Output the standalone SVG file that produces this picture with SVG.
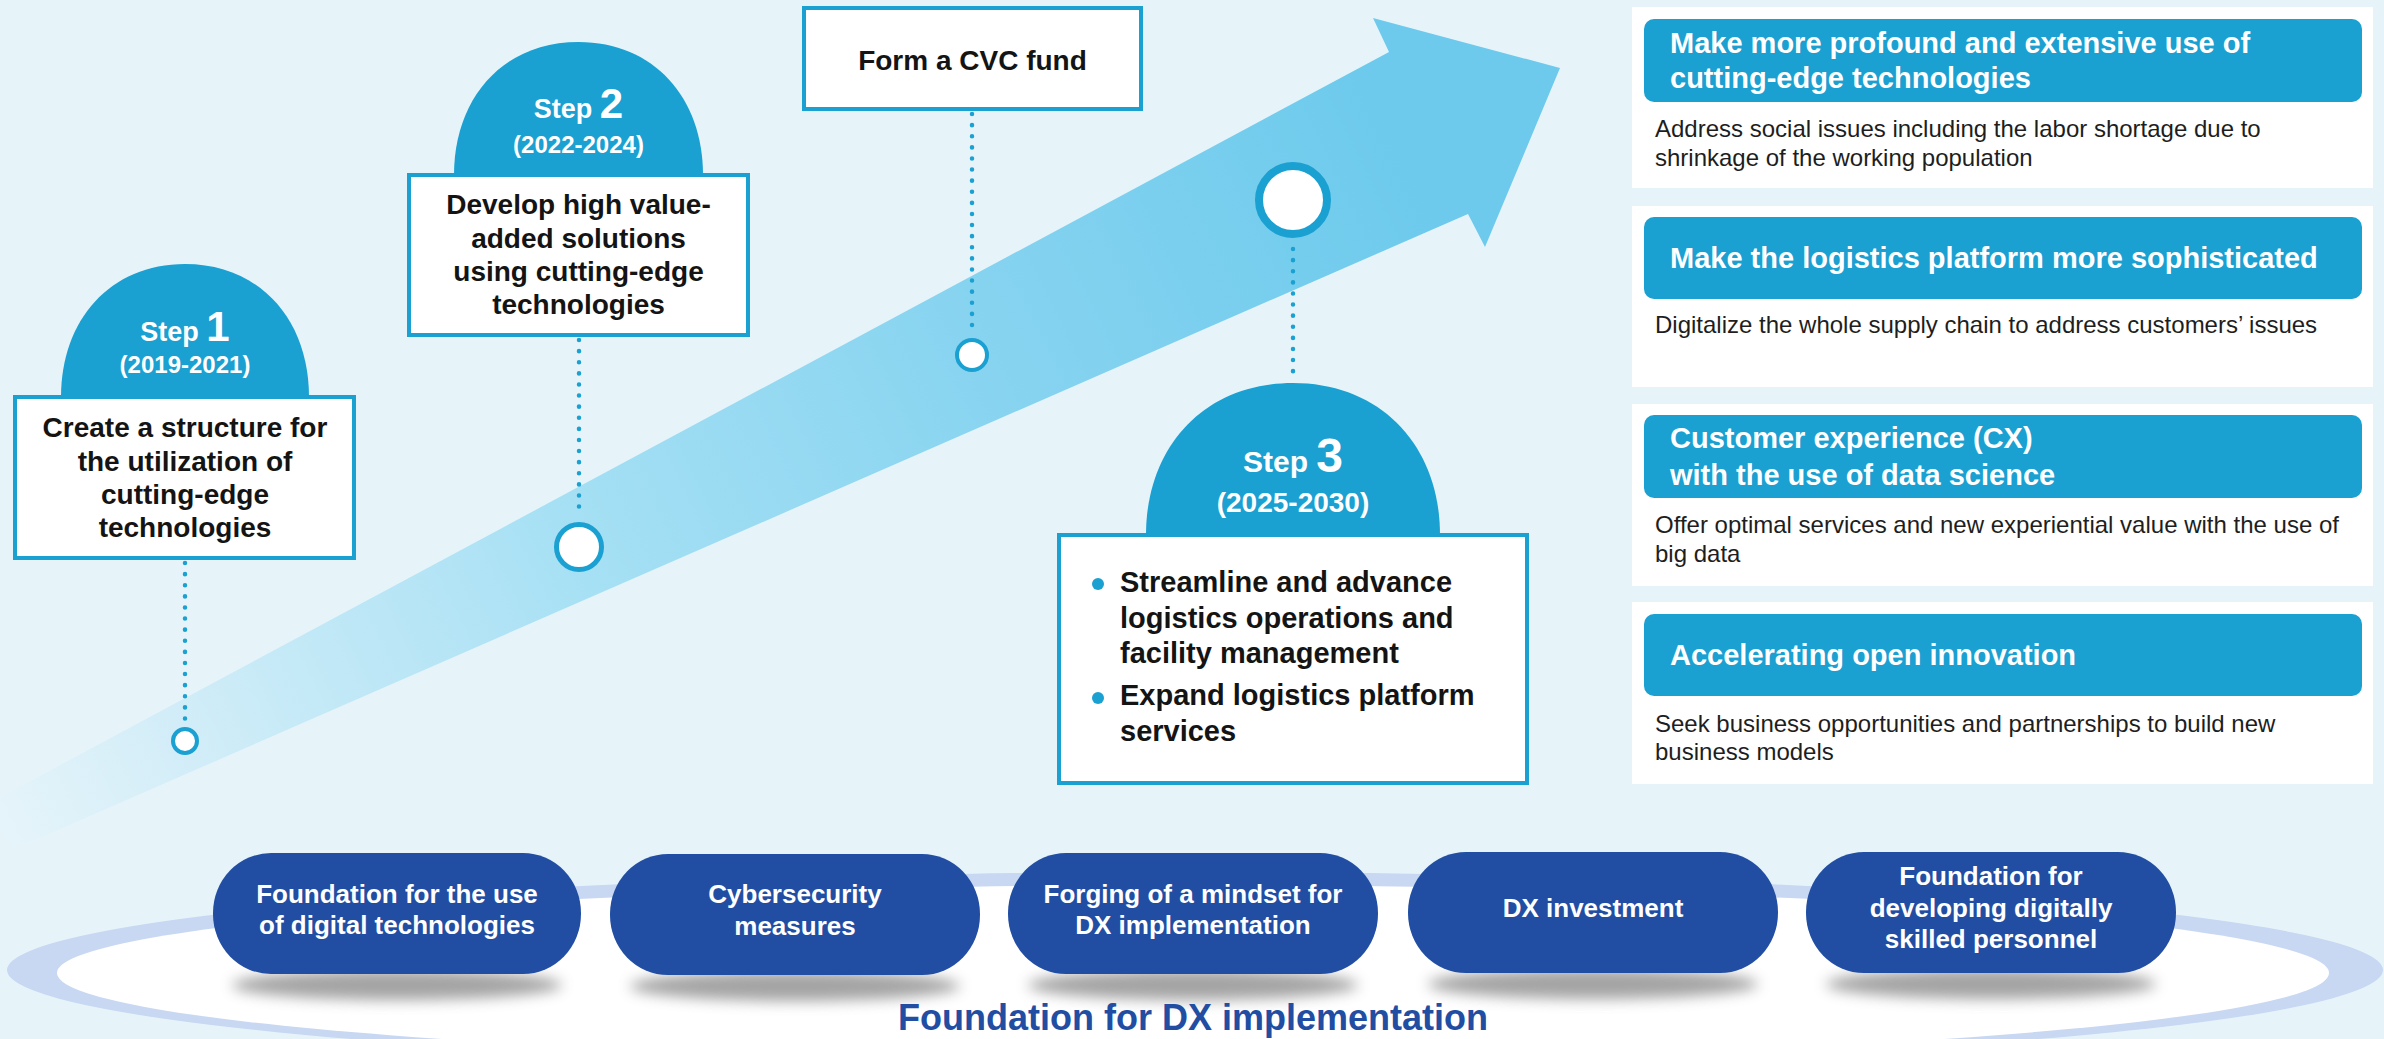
<svg xmlns="http://www.w3.org/2000/svg" width="2384" height="1039" viewBox="0 0 2384 1039">
  <defs>
    <linearGradient id="arrowFill" gradientUnits="userSpaceOnUse" x1="0" y1="830" x2="1400" y2="140">
      <stop offset="0" stop-color="#E6F4FA"/>
      <stop offset="0.13" stop-color="#D2EDF8"/>
      <stop offset="0.41" stop-color="#A6E0F4"/>
      <stop offset="0.69" stop-color="#88D4F0"/>
      <stop offset="1" stop-color="#6DCAEC"/>
    </linearGradient>
    <filter id="soft" x="-20%" y="-200%" width="140%" height="500%">
      <feGaussianBlur stdDeviation="7"/>
    </filter>
    <style>
      .box { fill: #FFFFFF; stroke: #1BA0D2; stroke-width: 4; }
      .dome { fill: #1BA0D2; }
      .dots { fill: none; stroke: #1BA0D2; stroke-width: 4.5; stroke-linecap: round; stroke-dasharray: 0.1 11; }
      .stepLbl { font-family: "Liberation Sans", Arial, sans-serif; font-weight: bold; fill: #FFFFFF; text-anchor: middle; }
      .body { font-family: "Liberation Sans", Arial, sans-serif; font-weight: bold; fill: #141414; font-size: 28px; text-anchor: middle; }
      .bullet { font-family: "Liberation Sans", Arial, sans-serif; font-weight: bold; fill: #141414; font-size: 29px; }
      .panel { fill: #FFFFFF; }
      .head { fill: #1BA0D2; }
      .headTxt { font-family: "Liberation Sans", Arial, sans-serif; font-weight: bold; fill: #FFFFFF; font-size: 29px; }
      .panelTxt { font-family: "Liberation Sans", Arial, sans-serif; fill: #1E1E1E; font-size: 24px; }
      .pill { fill: #214EA3; }
      .pillTxt { font-family: "Liberation Sans", Arial, sans-serif; font-weight: bold; fill: #FFFFFF; font-size: 26px; text-anchor: middle; }
      .shadow { fill: #858585; opacity: 0.75; filter: url(#soft); }
    </style>
  </defs>

  <!-- background -->
  <rect x="0" y="0" width="2384" height="1039" fill="#E6F4FA"/>

  <!-- rising arrow -->
  <g id="growth-arrow">
    <path d="M-20,808 L1389,52 L1373,18 L1560,68 L1485,247 L1468,214 L-20,864 Z" fill="url(#arrowFill)"/>
  </g>

  <!-- foundation ring -->
  <g id="foundation-ring">
    <ellipse cx="1195" cy="970" rx="1188" ry="98" fill="#C8D7F2"/>
    <ellipse cx="1193" cy="973" rx="1136" ry="88" fill="#FFFFFF"/>
  </g>

  <!-- connectors -->
  <g id="connectors">
    <line class="dots" x1="185" y1="563" x2="185" y2="723"/>
    <line class="dots" x1="579" y1="340" x2="579" y2="510"/>
    <line class="dots" x1="972" y1="114" x2="972" y2="334"/>
    <line class="dots" x1="1293" y1="249" x2="1293" y2="372"/>
  </g>

  <!-- milestones on the arrow -->
  <g id="milestone-1"><circle cx="185" cy="741" r="12" fill="#FFFFFF" stroke="#1BA0D2" stroke-width="4"/></g>
  <g id="milestone-2"><circle cx="579" cy="547" r="22.5" fill="#FFFFFF" stroke="#1BA0D2" stroke-width="5"/></g>
  <g id="milestone-cvc"><circle cx="972" cy="355" r="15" fill="#FFFFFF" stroke="#1BA0D2" stroke-width="4"/></g>
  <g id="milestone-3"><circle cx="1293" cy="200" r="34" fill="#FFFFFF" stroke="#1BA0D2" stroke-width="8"/></g>

  <!-- Step 1 -->
  <g id="step-1">
    <path class="dome" d="M61,397 C61,320 110,264 185,264 C260,264 309,320 309,397 Z"/>
    <text class="stepLbl" x="185" y="341"><tspan font-size="27">Step </tspan><tspan font-size="42">1</tspan></text>
    <text class="stepLbl" x="185" y="373" font-size="24">(2019-2021)</text>
    <rect class="box" x="15" y="397" width="339" height="161"/>
    <text class="body" x="185" y="437">Create a structure for</text>
    <text class="body" x="185" y="471">the utilization of</text>
    <text class="body" x="185" y="504">cutting-edge</text>
    <text class="body" x="185" y="537">technologies</text>
  </g>

  <!-- Step 2 -->
  <g id="step-2">
    <path class="dome" d="M454,175 C454,98 503,42 578.5,42 C654,42 703,98 703,175 Z"/>
    <text class="stepLbl" x="578.5" y="118"><tspan font-size="27">Step </tspan><tspan font-size="42">2</tspan></text>
    <text class="stepLbl" x="578.5" y="153" font-size="24">(2022-2024)</text>
    <rect class="box" x="409" y="175" width="339" height="160"/>
    <text class="body" x="578.5" y="214">Develop high value-</text>
    <text class="body" x="578.5" y="248">added solutions</text>
    <text class="body" x="578.5" y="281">using cutting-edge</text>
    <text class="body" x="578.5" y="314">technologies</text>
  </g>

  <!-- CVC fund -->
  <g id="cvc-fund">
    <rect class="box" x="804" y="8" width="337" height="101"/>
    <text class="body" x="972.5" y="70">Form a CVC fund</text>
  </g>

  <!-- Step 3 -->
  <g id="step-3">
    <path class="dome" d="M1146,535 C1146,447 1204,383 1293,383 C1382,383 1440,447 1440,535 Z"/>
    <text class="stepLbl" x="1293" y="472"><tspan font-size="30">Step </tspan><tspan font-size="48">3</tspan></text>
    <text class="stepLbl" x="1293" y="512" font-size="28">(2025-2030)</text>
    <rect class="box" x="1059" y="535" width="468" height="248"/>
    <circle cx="1098" cy="584" r="6" fill="#1BA0D2"/>
    <circle cx="1098" cy="698" r="6" fill="#1BA0D2"/>
    <text class="bullet" x="1120" y="592">Streamline and advance</text>
    <text class="bullet" x="1120" y="628">logistics operations and</text>
    <text class="bullet" x="1120" y="663">facility management</text>
    <text class="bullet" x="1120" y="705">Expand logistics platform</text>
    <text class="bullet" x="1120" y="741">services</text>
  </g>

  <!-- right-hand goal panels -->
  <g id="goal-technologies">
    <rect class="panel" x="1632" y="7" width="741" height="181"/>
    <rect class="head" x="1644" y="19" width="718" height="83" rx="10"/>
    <text class="headTxt" x="1670" y="53">Make more profound and extensive use of</text>
    <text class="headTxt" x="1670" y="88">cutting-edge technologies</text>
    <text class="panelTxt" x="1655" y="137">Address social issues including the labor shortage due to</text>
    <text class="panelTxt" x="1655" y="166">shrinkage of the working population</text>
  </g>
  <g id="goal-platform">
    <rect class="panel" x="1632" y="206" width="741" height="181"/>
    <rect class="head" x="1644" y="217" width="718" height="82" rx="10"/>
    <text class="headTxt" x="1670" y="268">Make the logistics platform more sophisticated</text>
    <text class="panelTxt" x="1655" y="333">Digitalize the whole supply chain to address customers’ issues</text>
  </g>
  <g id="goal-cx">
    <rect class="panel" x="1632" y="404" width="741" height="182"/>
    <rect class="head" x="1644" y="415" width="718" height="83" rx="10"/>
    <text class="headTxt" x="1670" y="448">Customer experience (CX)</text>
    <text class="headTxt" x="1670" y="485">with the use of data science</text>
    <text class="panelTxt" x="1655" y="533">Offer optimal services and new experiential value with the use of</text>
    <text class="panelTxt" x="1655" y="562">big data</text>
  </g>
  <g id="goal-open-innovation">
    <rect class="panel" x="1632" y="602" width="741" height="182"/>
    <rect class="head" x="1644" y="614" width="718" height="82" rx="10"/>
    <text class="headTxt" x="1670" y="665">Accelerating open innovation</text>
    <text class="panelTxt" x="1655" y="732">Seek business opportunities and partnerships to build new</text>
    <text class="panelTxt" x="1655" y="760">business models</text>
  </g>

  <!-- foundation pills -->
  <g id="pill-shadows">
    <ellipse class="shadow" cx="397" cy="985" rx="165" ry="15"/>
    <ellipse class="shadow" cx="795" cy="986" rx="165" ry="15"/>
    <ellipse class="shadow" cx="1193" cy="985" rx="165" ry="15"/>
    <ellipse class="shadow" cx="1593" cy="984" rx="165" ry="15"/>
    <ellipse class="shadow" cx="1991" cy="984" rx="165" ry="15"/>
  </g>
  <g id="pill-digital">
    <rect class="pill" x="213" y="853" width="368" height="121" rx="58" ry="60"/>
    <text class="pillTxt" x="397" y="903">Foundation for the use</text>
    <text class="pillTxt" x="397" y="934">of digital technologies</text>
  </g>
  <g id="pill-cyber">
    <rect class="pill" x="610" y="854" width="370" height="121" rx="58" ry="60"/>
    <text class="pillTxt" x="795" y="903">Cybersecurity</text>
    <text class="pillTxt" x="795" y="935">measures</text>
  </g>
  <g id="pill-mindset">
    <rect class="pill" x="1008" y="853" width="370" height="121" rx="58" ry="60"/>
    <text class="pillTxt" x="1193" y="903">Forging of a mindset for</text>
    <text class="pillTxt" x="1193" y="934">DX implementation</text>
  </g>
  <g id="pill-investment">
    <rect class="pill" x="1408" y="852" width="370" height="121" rx="58" ry="60"/>
    <text class="pillTxt" x="1593" y="917">DX investment</text>
  </g>
  <g id="pill-personnel">
    <rect class="pill" x="1806" y="852" width="370" height="121" rx="58" ry="60"/>
    <text class="pillTxt" x="1991" y="885">Foundation for</text>
    <text class="pillTxt" x="1991" y="917">developing digitally</text>
    <text class="pillTxt" x="1991" y="948">skilled personnel</text>
  </g>

  <text id="foundation-title" x="1193" y="1030" font-family="Liberation Sans, Arial, sans-serif" font-weight="bold" font-size="36" fill="#214EA3" text-anchor="middle">Foundation for DX implementation</text>
</svg>
